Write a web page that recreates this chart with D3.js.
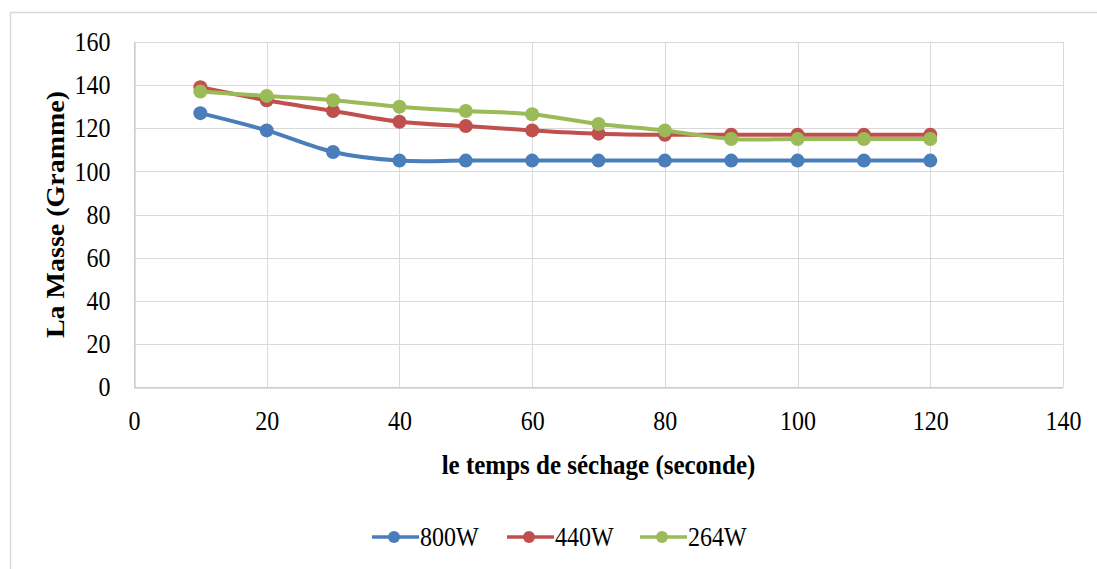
<!DOCTYPE html>
<html>
<head>
<meta charset="utf-8">
<script src="https://cdn.jsdelivr.net/npm/d3@7"></script>
<style>
  html, body { margin: 0; padding: 0; background: #fff; }
  svg { display: block; }
  text { font-family: "Liberation Serif", "Times New Roman", serif; fill: #000; }
  .tall { transform-box: fill-box; transform-origin: center; transform: scaleY(1.1); }
</style>
</head>
<body>
<svg id="chart" width="1097" height="569"></svg>
<script>
// Drying time (seconds)
const times = [10, 20, 30, 40, 50, 60, 70, 80, 90, 100, 110, 120];

// Mass (grams) for each microwave power
const mass800 = [127, 119, 109, 105, 105, 105, 105, 105, 105, 105, 105, 105];
const mass440 = [139, 133, 128, 123, 121, 119, 117.5, 117, 117, 117, 117, 117];
const mass264 = [137, 135, 133, 130, 128, 126.5, 122, 119, 115, 115, 115, 115];

const seriesNames = ["800W", "440W", "264W"];
const seriesColors = ["#4a7ebb", "#c0504d", "#9bbb59"];

const xTicks = [0, 20, 40, 60, 80, 100, 120, 140];
const yTicks = [0, 20, 40, 60, 80, 100, 120, 140, 160];

const xTitle = "le temps de séchage (seconde)";
const yTitle = "La Masse (Gramme)";

const series = [mass800, mass440, mass264].map((vals, i) => ({
  name: seriesNames[i],
  color: seriesColors[i],
  points: vals.map((v, j) => ({ x: times[j], y: v }))
}));

const svg = d3.select("#chart");
const plot = { left: 134, right: 1063, top: 42, bottom: 387 };

// Outer chart frame
svg.append("rect")
  .attr("x", 10.5).attr("y", 12.5)
  .attr("width", 1100).attr("height", 600)
  .attr("fill", "#fff")
  .attr("stroke", "#d9d9d9").attr("stroke-width", 1.5);

const x = d3.scaleLinear().domain([0, 140]).range([plot.left, plot.right]);
const y = d3.scaleLinear().domain([0, 160]).range([plot.bottom, plot.top]);

// Gridlines
const grid = svg.append("g");
grid.selectAll("line.h").data(yTicks).join("line")
  .attr("x1", plot.left).attr("x2", plot.right)
  .attr("y1", d => Math.round(y(d)) + 0.5).attr("y2", d => Math.round(y(d)) + 0.5)
  .attr("stroke", "#d9d9d9").attr("stroke-width", 1);
grid.selectAll("line.v").data(xTicks).join("line")
  .attr("y1", plot.top).attr("y2", plot.bottom)
  .attr("x1", d => Math.round(x(d)) + 0.5).attr("x2", d => Math.round(x(d)) + 0.5)
  .attr("stroke", "#d9d9d9").attr("stroke-width", 1);

// Axes
const xAxis = svg.append("g")
  .attr("transform", `translate(0,${plot.bottom + 0.5})`)
  .call(d3.axisBottom(x).tickValues(xTicks).tickSize(0).tickPadding(42));
const yAxis = svg.append("g")
  .attr("transform", `translate(${plot.left + 0.5},0)`)
  .call(d3.axisLeft(y).tickValues(yTicks).tickSize(0).tickPadding(24));
[xAxis, yAxis].forEach(a => {
  a.attr("font-family", null);
  a.select(".domain").attr("stroke", "#bfbfbf");
  a.selectAll("text")
    .attr("class", "tall")
    .style("font-size", "24px")
    .attr("fill", "#000");
});
xAxis.selectAll("text").attr("dy", "0");
yAxis.selectAll("text").attr("dy", "0.33em");

// Axis titles
svg.append("text")
  .attr("class", "tall")
  .attr("x", (plot.left + plot.right) / 2).attr("y", 473)
  .attr("text-anchor", "middle")
  .style("font-size", "25px").style("font-weight", "bold")
  .text(xTitle);
svg.append("text")
  .attr("transform", `translate(64,${(plot.top + plot.bottom) / 2}) rotate(-90) scale(1.12,1)`)
  .attr("text-anchor", "middle")
  .style("font-size", "25px").style("font-weight", "bold")
  .text(yTitle);

// Smoothed series lines with circle markers
const line = d3.line()
  .x(d => x(d.x)).y(d => y(d.y))
  .curve(d3.curveCatmullRom.alpha(0.5));

const sg = svg.append("g").selectAll("g").data(series).join("g");
sg.append("path")
  .attr("d", d => line(d.points))
  .attr("fill", "none")
  .attr("stroke", d => d.color)
  .attr("stroke-width", 4)
  .attr("stroke-linejoin", "round");
sg.selectAll("circle").data(d => d.points.map(p => ({ ...p, color: d.color }))).join("circle")
  .attr("cx", d => x(d.x)).attr("cy", d => y(d.y))
  .attr("r", 7)
  .attr("fill", d => d.color);

// Legend
const legendX = [372, 507, 640];
const legendY = 537;
const lg = svg.append("g").selectAll("g").data(series).join("g")
  .attr("transform", (d, i) => `translate(${legendX[i]},${legendY})`);
lg.append("line")
  .attr("x1", 0).attr("x2", 47).attr("y1", 0).attr("y2", 0)
  .attr("stroke", d => d.color).attr("stroke-width", 3.5);
lg.append("circle").attr("cx", 22).attr("cy", 0).attr("r", 6).attr("fill", d => d.color);
lg.append("text")
  .attr("class", "tall")
  .attr("x", 48).attr("y", 0).attr("dy", "0.33em")
  .style("font-size", "24px")
  .text(d => d.name);
</script>
</body>
</html>
